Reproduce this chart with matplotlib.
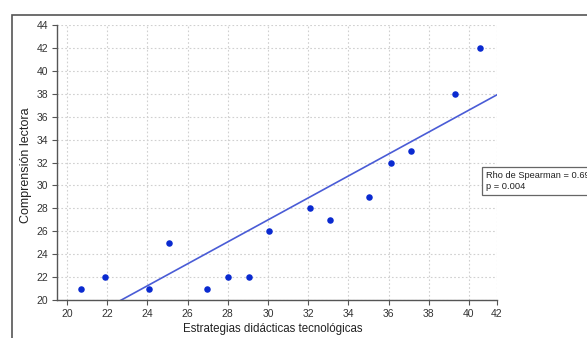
import matplotlib
matplotlib.use("Agg")
import matplotlib.pyplot as plt
from matplotlib.patches import Rectangle

plt.rcParams['font.family'] = ['Liberation Sans', 'DejaVu Sans']

# Data
x_vals = [20.7, 21.9, 24.1, 25.05, 26.95, 28.0, 29.05, 30.05, 32.1, 33.1, 35.05, 36.1, 37.1, 39.3, 40.55]
y_vals = [21, 22, 21, 25, 21, 22, 22, 26, 28, 27, 29, 32, 33, 38, 42]
fit_slope = 0.958
fit_intercept = -1.75
x_tick_pos = [20, 22, 24, 26, 28, 30, 32, 34, 36, 38, 40, 41.4]
x_tick_labels = ["20", "22", "24", "26", "28", "30", "32", "34", "36", "38", "40", "42"]
y_ticks = [20, 22, 24, 26, 28, 30, 32, 34, 36, 38, 40, 42, 44]
x_label = "Estrategias didácticas tecnológicas"
y_label = "Comprensión lectora"
stats_text = "Rho de Spearman = 0.699\np = 0.004"

W, H = 587, 338
fig = plt.figure(figsize=(W / 100, H / 100), dpi=100)

# outer frame
fig.patches.append(Rectangle((12 / W, -0.1), 1.2, (H - 15) / H + 0.1, transform=fig.transFigure,
                             fill=False, edgecolor='#555555', linewidth=1.2))

ax = fig.add_axes([57 / W, 1 - 300 / H, (497 - 57) / W, (300 - 25) / H])
xmin, xmax = 19.5, 41.4
ax.set_xlim(xmin, xmax)
ax.set_ylim(20, 44)

ax.grid(True, color='#d0d0d0', linestyle=(0, (1.5, 2)), linewidth=0.8)
ax.set_axisbelow(True)

ax.scatter(x_vals, y_vals, s=22, color='#0a2ad0', zorder=3, linewidths=0)
lx = [xmin, xmax]
ax.plot(lx, [fit_intercept + fit_slope * v for v in lx], color='#4a5cd6', linewidth=1.2, zorder=2)

ax.set_xticks(x_tick_pos)
ax.set_xticklabels(x_tick_labels)
ax.set_yticks(y_ticks)
for s in ['top', 'right']:
    ax.spines[s].set_visible(False)
for s in ['left', 'bottom']:
    ax.spines[s].set_color('#555555')
    ax.spines[s].set_linewidth(1.0)
ax.tick_params(axis='both', direction='out', length=3.5, width=0.8, color='#555555',
               labelsize=7.5, labelcolor='#333333', pad=3)

ax.set_xlabel(x_label, fontsize=8.3, color='#222222')
ax.set_ylabel(y_label, fontsize=9, color='#222222')
ax.xaxis.set_label_coords(0.49, -23 / 275)
ax.yaxis.set_label_coords(-25 / 440, 0.49)

fig.text(486 / W, 1 - 181 / H, stats_text, fontsize=6.7, color='#222222', va='center', ha='left',
         linespacing=1.35,
         bbox=dict(boxstyle='square,pad=0.45', facecolor='white', edgecolor='#666666', linewidth=0.9))

fig.savefig("out.png", dpi=100)
